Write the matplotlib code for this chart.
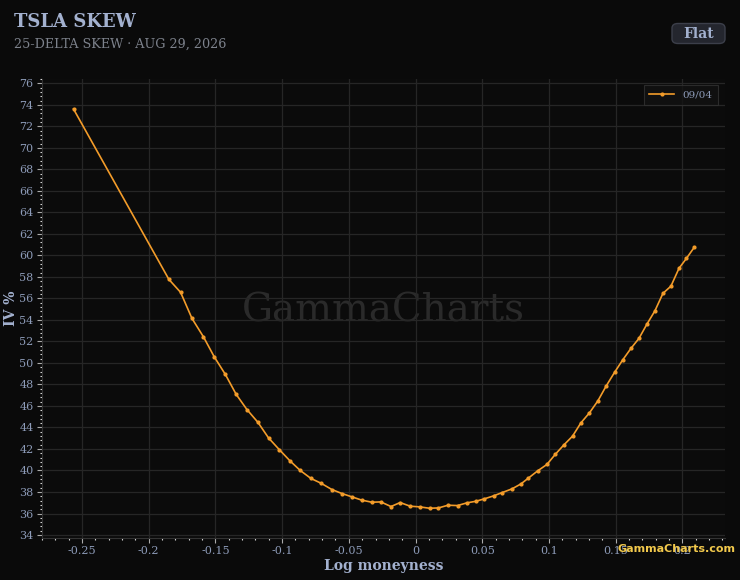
import matplotlib
matplotlib.use("Agg")
import matplotlib.pyplot as plt
from matplotlib.ticker import MultipleLocator, FuncFormatter
from matplotlib.patches import FancyBboxPatch

log_moneyness = [-0.2564, -0.1849, -0.1761, -0.1676, -0.159, -0.1509, -0.1427, -0.1344,
                 -0.1264, -0.1181, -0.1102, -0.1022, -0.0939, -0.0864, -0.0784, -0.0709,
                 -0.0627, -0.0552, -0.0477, -0.0402, -0.0327, -0.026, -0.0184, -0.0115,
                 -0.004, 0.003, 0.0105, 0.0172, 0.0243, 0.0315, 0.0385, 0.0453, 0.0515,
                 0.0585, 0.065, 0.0723, 0.079, 0.0847, 0.0915, 0.0985, 0.1047, 0.111,
                 0.1177, 0.124, 0.1304, 0.1367, 0.143, 0.1492, 0.1552, 0.1615, 0.1675,
                 0.1735, 0.1795, 0.1855, 0.1915, 0.1975, 0.2031, 0.2089]
iv_pct = [73.61, 57.77, 56.56, 54.14, 52.43, 50.57, 48.96, 47.07,
          45.67, 44.47, 43.03, 41.95, 40.87, 40.0, 39.26, 38.82,
          38.23, 37.86, 37.55, 37.24, 37.05, 37.08, 36.65, 37.02,
          36.68, 36.62, 36.49, 36.52, 36.77, 36.74, 36.99, 37.14, 37.36,
          37.64, 37.95, 38.29, 38.75, 39.3, 39.96, 40.56, 41.49, 42.35,
          43.19, 44.43, 45.36, 46.47, 47.87, 49.12, 50.26, 51.35, 52.28,
          53.61, 54.85, 56.47, 57.14, 58.79, 59.72, 60.74]
series_label = "09/04"
title = "TSLA SKEW"
subtitle = "25-DELTA SKEW \u00b7 AUG 29, 2026"

BG = "#0a0a0a"
AX_BG = "#0b0b0b"
GRID = "#262626"
TICK = "#8d9bb8"
LABEL = "#a3b1cf"
ORANGE = "#f39c2a"

plt.rcParams['font.family'] = ['DejaVu Serif', 'DejaVu Sans']

fig = plt.figure(figsize=(7.4, 5.8), dpi=100, facecolor=BG)
ax = fig.add_axes([0.0568, 0.0729, 0.9229, 0.7909], facecolor=AX_BG)

ax.plot(log_moneyness, iv_pct, color=ORANGE, lw=1.2, marker='o', ms=2.0,
        label=series_label, zorder=3)

ax.set_xlim(-0.280, 0.232)
ax.set_ylim(33.75, 76.4)
ax.xaxis.set_major_locator(MultipleLocator(0.05))
ax.xaxis.set_minor_locator(MultipleLocator(0.01))
ax.yaxis.set_major_locator(MultipleLocator(2))
ax.yaxis.set_minor_locator(MultipleLocator(0.4))

def xfmt(v, pos):
    s = f"{v:.2f}".rstrip('0').rstrip('.')
    if s in ("-0", "0"):
        return "0"
    return s
ax.xaxis.set_major_formatter(FuncFormatter(xfmt))
ax.yaxis.set_major_formatter(FuncFormatter(lambda v, p: f"{v:.0f}"))

ax.grid(True, which='major', color=GRID, lw=0.9)
ax.tick_params(axis='both', which='major', labelsize=8, length=3.5, width=0.8,
               color="#aaaaaa", labelcolor=TICK, pad=2.5)
ax.tick_params(axis='both', which='minor', color="#dddddd", length=1.5, width=0.8)
for side in ('top', 'right'):
    ax.spines[side].set_visible(False)
for side in ('left', 'bottom'):
    ax.spines[side].set_color("#333333")
    ax.spines[side].set_linewidth(0.8)

ax.set_xlabel("Log moneyness", color=LABEL, fontsize=10, fontweight='bold', labelpad=2)
ax.set_ylabel("IV %", color=LABEL, fontsize=10, fontweight='bold', labelpad=1)

leg = ax.legend(loc='upper right', fontsize=7.5, frameon=True, facecolor="#121212",
                edgecolor="#333333", labelcolor=TICK, handlelength=2.4,
                borderpad=0.5, fancybox=False, bbox_to_anchor=(0.997, 0.998))
leg.get_frame().set_linewidth(0.8)

ax.text(0.5, 0.495, "GammaCharts", transform=ax.transAxes, ha='center', va='center',
        fontsize=28, color="#2a2a2a", zorder=1)

fig.text(14/740, 1 - 22/580, title, color=LABEL, fontsize=13, fontweight='bold',
         va='center', ha='left')
fig.text(14/740, 1 - 44/580, subtitle, color="#7d828c", fontsize=9.2,
         va='center', ha='left')

btn = FancyBboxPatch((672/740, 1 - 43.5/580), 53/740, 20/580,
                     boxstyle="round,pad=0,rounding_size=0.008",
                     transform=fig.transFigure, facecolor="#24262e",
                     edgecolor="#3c3f4a", lw=1.0)
fig.patches.append(btn)
fig.text(698.5/740, 1 - 33.5/580, "Flat", color=LABEL, fontsize=10, fontweight='bold',
         ha='center', va='center')

fig.text(676/740, 1 - 549/580, "GammaCharts.com", color="#f2c94c", fontsize=8,
         fontweight='bold', family='DejaVu Sans', ha='center', va='center')

fig.savefig("out.png", dpi=100, facecolor=BG)
